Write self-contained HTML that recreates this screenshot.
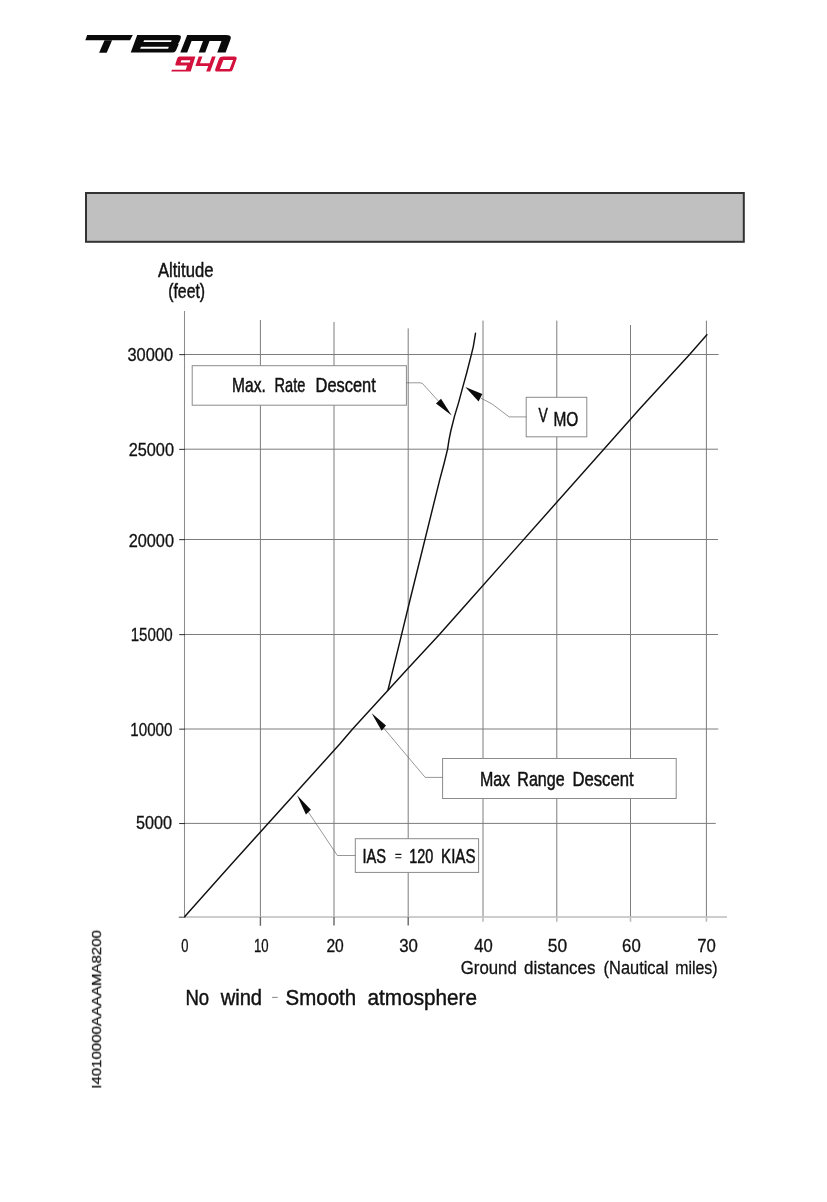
<!DOCTYPE html>
<html><head><meta charset="utf-8">
<style>
html,body{margin:0;padding:0;background:#fff;}
body{width:827px;height:1202px;overflow:hidden;font-family:"Liberation Sans",sans-serif;}
svg{display:block;}
text{font-family:"Liberation Sans",sans-serif;fill:#111;stroke:#111;stroke-width:0.3;}
.g line{stroke:#7c7c7c;stroke-width:1;fill:none;}
.ld{stroke:#606060;stroke-width:0.65;fill:none;}
.bx{fill:#fff;stroke:#8a8a8a;stroke-width:1;}
.cv{stroke:#111;stroke-width:1.45;fill:none;stroke-linecap:round;stroke-linejoin:round;}
</style></head><body>
<svg width="827" height="1202" viewBox="0 0 827 1202">
<rect width="827" height="1202" fill="#fff"/>
<!-- LOGO -->
<g id="logo">
<g fill="#0a0a0a">
<polygon points="87.2,34.9 132.8,34.9 130,40.2 85.3,40.2"/>
<polygon points="104.5,40.2 112.1,40.2 106.7,52.7 99.1,52.7"/>
<path d="M137.2,34.9 L177.6,34.9 Q181.9,34.9 180.7,38.2 L179.4,41.8 L178.2,43.4 L178.6,44.6 L176,50.4 Q175,52.6 171.6,52.6 L130.7,52.6 Z M144.1,40.2 L143.4,42 L171,42 L171.7,40.2 Z M140.9,46.8 L140.2,48.7 L168.1,48.7 L168.8,46.8 Z" fill-rule="evenodd"/>
<path d="M187.2,34.9 L226,34.9 Q232,34.9 230.6,39 L225.6,52.5 L217.2,52.5 L221.5,40.9 L209.5,40.9 L205.2,52.5 L198.7,52.5 L203,40.9 L191.6,40.9 L187.2,52.5 L180.3,52.5 Z"/>
</g>
<g fill="#d4103c">
<path d="M179.6,56.6 L195.4,56.6 L190.7,71.6 L171.3,71.6 L171.9,69.7 L185.8,69.7 L187.1,65.5 L176.5,65.5 Q174.9,65.5 175.4,64 L177.3,58.2 Q177.9,56.6 179.6,56.6 Z M181.3,60.2 L190.4,60.2 L189.7,62.4 L180.6,62.4 Z" fill-rule="evenodd"/>
<path d="M198.7,56.6 L202.4,56.6 L200,63.2 L209.6,63.2 L212,56.6 L215.7,56.6 L210.2,71.6 L206.2,71.6 L208.3,65.9 L195.4,65.9 Z"/>
<path d="M223,56.6 L234.5,56.6 Q237.4,56.6 236.5,59.2 L232.8,69.4 Q232,71.6 229.4,71.6 L217.4,71.6 Q214.4,71.6 215.3,69 L219,58.8 Q219.8,56.6 223,56.6 Z M223.4,59.9 L233.1,59.9 L229.6,68.9 L219.9,68.9 Z" fill-rule="evenodd"/>
</g>
</g>

<!-- GRAY BOX -->
<rect x="86" y="193" width="657.8" height="48.8" fill="#c0c0c0" stroke="#333" stroke-width="2"/>
<!-- GRID -->
<g class="g">
<line x1="260.4" y1="320" x2="260.4" y2="917"/>
<line x1="334.0" y1="322" x2="334.0" y2="917"/>
<line x1="408.2" y1="328.4" x2="408.2" y2="917"/>
<line x1="483.0" y1="320.6" x2="483.0" y2="917"/>
<line x1="556.8" y1="320.6" x2="556.8" y2="917"/>
<line x1="630.5" y1="325" x2="630.5" y2="917"/>
<line x1="706.4" y1="320.6" x2="706.4" y2="917"/>
<line x1="185" y1="354.5" x2="718.6" y2="354.5"/>
<line x1="185" y1="449.2" x2="718" y2="449.2"/>
<line x1="185" y1="539.5" x2="718" y2="539.5"/>
<line x1="185" y1="634.5" x2="718" y2="634.5"/>
<line x1="185" y1="729.0" x2="718.3" y2="729.0"/>
<line x1="185" y1="823.4" x2="715.8" y2="823.4"/>
</g>
<line x1="184.5" y1="311" x2="184.5" y2="917" stroke="#8c8c8c" stroke-width="1.05"/>
<line x1="185" y1="917" x2="727" y2="917" stroke="#bcbcbc" stroke-width="1.7"/>
<line x1="178.8" y1="917.2" x2="185.4" y2="917.2" stroke="#2a2a2a" stroke-width="0.9"/>
<line x1="260.4" y1="917" x2="260.4" y2="925.8" stroke="#666" stroke-width="1.4"/>
<line x1="334.0" y1="917" x2="334.0" y2="925.6" stroke="#666" stroke-width="1.4"/>
<line x1="408.2" y1="917" x2="408.2" y2="925.6" stroke="#666" stroke-width="1.4"/>
<line x1="483.0" y1="917.8" x2="483.0" y2="921.8" stroke="#bbb" stroke-width="1.6"/>
<line x1="556.8" y1="917.8" x2="556.8" y2="921.8" stroke="#bbb" stroke-width="1.6"/>
<line x1="630.5" y1="917.8" x2="630.5" y2="921.8" stroke="#bbb" stroke-width="1.6"/>
<line x1="706.4" y1="917.8" x2="706.4" y2="921.8" stroke="#bbb" stroke-width="1.6"/>
<line x1="179.2" y1="354.65" x2="184.9" y2="354.65" stroke="#1c1c1c" stroke-width="0.95"/>
<line x1="179.2" y1="449.35" x2="184.9" y2="449.35" stroke="#1c1c1c" stroke-width="0.95"/>
<line x1="179.2" y1="539.65" x2="184.9" y2="539.65" stroke="#1c1c1c" stroke-width="0.95"/>
<line x1="179.2" y1="634.65" x2="184.9" y2="634.65" stroke="#1c1c1c" stroke-width="0.95"/>
<line x1="179.2" y1="729.15" x2="184.9" y2="729.15" stroke="#1c1c1c" stroke-width="0.95"/>
<line x1="179.2" y1="823.55" x2="184.9" y2="823.55" stroke="#1c1c1c" stroke-width="0.95"/>
<!-- CURVES -->
<path class="cv" d="M184.8,916.6 L230,865.7 L340,743.8 L352.6,729 L407.7,668.7 L439.2,634.8 L469.6,600.5 L640,408.5 L689.6,354.5 L706.9,334.8"/>
<path class="cv" d="M388,690 L401.5,634.8 L410,600 L439.7,479.8 L444,463.8 L447.6,449.2 L449,439.9 L450.9,430.5 L454.6,415.9 L458.6,402.6 L462.9,386.6 L466.6,373.3 L471.3,354.9 L473.3,346.6 L475.5,333.3"/>
<!-- CALLOUTS -->
<rect class="bx" x="192.2" y="365.7" width="214.2" height="39.5"/>
<rect class="bx" x="526.2" y="397.3" width="60.6" height="39.5"/>
<rect class="bx" x="442.6" y="758.5" width="233.6" height="40"/>
<rect class="bx" x="355.3" y="838.7" width="123.3" height="33.7"/>
<path class="ld" d="M406.4,382.8 L420,382.8 L422.4,383.4 L438.5,401.2"/>
<polygon points="451.7,415.6 436,403.6 441,398.8" fill="#0a0a0a"/>
<path class="ld" d="M526.2,416.9 L509.2,416.9 L491.9,403.9 L480.6,397.9"/>
<polygon points="465.3,387 482.3,393.9 478.6,401.5" fill="#0a0a0a"/>
<path class="ld" d="M442.6,777.4 L425.2,777.4 L383.8,728.2"/>
<polygon points="371.7,713.3 386,725.6 381.6,730.8" fill="#0a0a0a"/>
<path class="ld" d="M355.3,855.5 L337.4,855.5 L308.4,812.2"/>
<polygon points="297.1,795.2 310.9,809.8 305.9,814.6" fill="#0a0a0a"/>
<!-- TEXT -->
<g id="txt" opacity="0.999">
<text x="157.90" y="276.5" font-size="20.1" textLength="55.51" lengthAdjust="spacingAndGlyphs" style="stroke-width:0.45">Altitude</text>
<text x="168.20" y="298.2" font-size="20.9" textLength="36.90" lengthAdjust="spacingAndGlyphs" style="stroke-width:0.45">(feet)</text>
<text x="127.50" y="361.4" font-size="18" textLength="45.60" lengthAdjust="spacingAndGlyphs">30000</text>
<text x="128.70" y="455.6" font-size="18" textLength="45.30" lengthAdjust="spacingAndGlyphs">25000</text>
<text x="128.70" y="547.2" font-size="18" textLength="45.30" lengthAdjust="spacingAndGlyphs">20000</text>
<text x="130.70" y="640.7" font-size="18" textLength="42.00" lengthAdjust="spacingAndGlyphs">15000</text>
<text x="130.30" y="735.5" font-size="18" textLength="42.20" lengthAdjust="spacingAndGlyphs">10000</text>
<text x="136.10" y="829.4" font-size="18" textLength="35.99" lengthAdjust="spacingAndGlyphs">5000</text>
<text x="181.30" y="952.2" font-size="17.5" textLength="7.20" lengthAdjust="spacingAndGlyphs">0</text>
<text x="253.90" y="952.2" font-size="17.5" textLength="14.60" lengthAdjust="spacingAndGlyphs">10</text>
<text x="326.40" y="952.2" font-size="17.5" textLength="17.40" lengthAdjust="spacingAndGlyphs">20</text>
<text x="399.20" y="952.2" font-size="17.5" textLength="18.71" lengthAdjust="spacingAndGlyphs">30</text>
<text x="474.20" y="952.2" font-size="17.5" textLength="18.51" lengthAdjust="spacingAndGlyphs">40</text>
<text x="547.80" y="952.2" font-size="17.5" textLength="19.31" lengthAdjust="spacingAndGlyphs">50</text>
<text x="622.10" y="952.2" font-size="17.5" textLength="18.61" lengthAdjust="spacingAndGlyphs">60</text>
<text x="697.20" y="952.2" font-size="17.5" textLength="18.61" lengthAdjust="spacingAndGlyphs">70</text>
<text x="460.80" y="974.0" font-size="18.6" textLength="56.01" lengthAdjust="spacingAndGlyphs">Ground</text>
<text x="524.00" y="974.0" font-size="18.6" textLength="71.39" lengthAdjust="spacingAndGlyphs">distances</text>
<text x="603.60" y="974.0" font-size="18.6" textLength="64.70" lengthAdjust="spacingAndGlyphs">(Nautical</text>
<text x="675.20" y="974.0" font-size="18.6" textLength="42.39" lengthAdjust="spacingAndGlyphs">miles)</text>
<text x="185.40" y="1005.1" font-size="22.8" textLength="23.71" lengthAdjust="spacingAndGlyphs" style="stroke-width:0.45">No</text>
<text x="220.64" y="1005.1" font-size="22.8" textLength="41.45" lengthAdjust="spacingAndGlyphs" style="stroke-width:0.45">wind</text>
<text x="285.60" y="1005.1" font-size="22.8" textLength="70.51" lengthAdjust="spacingAndGlyphs" style="stroke-width:0.45">Smooth</text>
<text x="367.60" y="1005.1" font-size="22.8" textLength="109.40" lengthAdjust="spacingAndGlyphs" style="stroke-width:0.45">atmosphere</text>
<text x="232.10" y="391.9" font-size="20.4" textLength="33.60" lengthAdjust="spacingAndGlyphs" style="stroke-width:0.5">Max.</text>
<text x="274.60" y="391.9" font-size="20.4" textLength="30.80" lengthAdjust="spacingAndGlyphs" style="stroke-width:0.5">Rate</text>
<text x="315.60" y="391.9" font-size="20.4" textLength="60.21" lengthAdjust="spacingAndGlyphs" style="stroke-width:0.5">Descent</text>
<text x="479.90" y="785.5" font-size="20.4" textLength="30.20" lengthAdjust="spacingAndGlyphs" style="stroke-width:0.5">Max</text>
<text x="517.30" y="785.5" font-size="20.4" textLength="47.30" lengthAdjust="spacingAndGlyphs" style="stroke-width:0.5">Range</text>
<text x="572.40" y="785.5" font-size="20.4" textLength="61.21" lengthAdjust="spacingAndGlyphs" style="stroke-width:0.5">Descent</text>
<text x="362.40" y="862.8" font-size="20.4" textLength="23.60" lengthAdjust="spacingAndGlyphs" style="stroke-width:0.5">IAS</text>
<text x="409.30" y="862.8" font-size="20.4" textLength="24.11" lengthAdjust="spacingAndGlyphs" style="stroke-width:0.5">120</text>
<text x="441.10" y="862.8" font-size="20.4" textLength="34.40" lengthAdjust="spacingAndGlyphs" style="stroke-width:0.5">KIAS</text>
<text x="538.50" y="421.7" font-size="20.4" textLength="9.30" lengthAdjust="spacingAndGlyphs" style="stroke-width:0.5">V</text>
<text x="553.50" y="426.3" font-size="20.4" textLength="24.90" lengthAdjust="spacingAndGlyphs" style="stroke-width:0.5">MO</text>
<text transform="translate(100.9,1088.7) rotate(-90)" font-size="12" textLength="158.6" lengthAdjust="spacingAndGlyphs" style="stroke-width:0.25">I4010000AAAAMA8200</text>
<path d="M395.3,854.4 H401.4 M395.3,857.7 H401.4" stroke="#111" stroke-width="1.15" fill="none"/>
<line x1="272.1" y1="997.4" x2="277.7" y2="997.4" stroke="#666" stroke-width="0.8"/>
</g>
</svg>
</body></html>
